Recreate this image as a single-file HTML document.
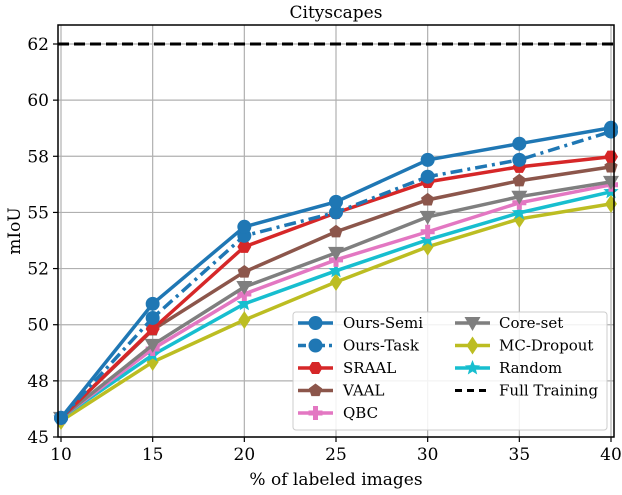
<!DOCTYPE html>
<html><head><meta charset="utf-8"><style>
body{margin:0;background:#fff}
svg text{font-family:"DejaVu Serif","Liberation Serif",serif;fill:#000}
</style></head><body>
<svg id="chart" width="622" height="490" viewBox="0 0 622 490" xmlns="http://www.w3.org/2000/svg"></svg>
<script>
const xCats=[10,15,20,25,30,35,40];
const xTickLabels=["10","15","20","25","30","35","40"];
const yTicks=[45,47.5,50,52.5,55,57.5,60,62.5];
const yTickLabels=["45","48","50","52","55","58","60","62"];
const oursSemi=[45.85,50.93,54.36,55.47,57.34,58.06,58.77];
const oursTask=[45.85,50.30,53.96,55.0,56.59,57.34,58.6];
const sraal=[45.85,49.81,53.47,54.98,56.36,57.03,57.48];
const vaal=[45.85,49.77,52.35,54.14,55.56,56.41,57.03];
const qbc=[45.85,48.92,51.37,52.89,54.14,55.43,56.23];
const coreset=[45.85,49.10,51.68,53.2,54.8,55.7,56.36];
const mcDropout=[45.71,48.34,50.21,51.9,53.47,54.71,55.38];
const random=[45.85,48.65,50.93,52.4,53.78,54.98,55.92];
const fullTraining=62.5;
const svg=document.getElementById('chart');
const NS='http://www.w3.org/2000/svg';
const L=58,R=614,T=25,B=437;
const xs=v=>61+(v-10)*(611-61)/30;
const ys=v=>437-(v-45)*(437-44)/17.5;
function mk(t,a,p){const e=document.createElementNS(NS,t);for(const k in a)e.setAttribute(k,a[k]);(p||svg).appendChild(e);return e;}
// grid
xCats.forEach((c,i)=>{const g=mk('line',{x1:xs(c),x2:xs(c),y1:T,y2:B,stroke:'#b0b0b0','stroke-width':1.2});

const tk=mk('line',{x1:xs(c),x2:xs(c),y1:B,y2:B+5,stroke:'#000','stroke-width':1.2});

const t=mk('text',{x:xs(c),y:B+23,'text-anchor':'middle','font-size':17});t.textContent=xTickLabels[i];
});
yTicks.forEach((v,i)=>{const g=mk('line',{x1:L,x2:R,y1:ys(v),y2:ys(v),stroke:'#b0b0b0','stroke-width':1.2});

const tk=mk('line',{x1:L-5,x2:L,y1:ys(v),y2:ys(v),stroke:'#000','stroke-width':1.2});

const t=mk('text',{x:L-9,y:ys(v)+6,'text-anchor':'end','font-size':17});t.textContent=yTickLabels[i];
});
// full training
const ft=mk('line',{x1:L,x2:R,y1:ys(fullTraining),y2:ys(fullTraining),stroke:'#000','stroke-width':3,'stroke-dasharray':'11,5'});

function marker(type,x,y,color,p){let e;const r=7;
if(type==='o')e=mk('circle',{cx:x,cy:y,r:r},p);
else if(type==='h'){let pts=[];for(let k=0;k<6;k++){const a=Math.PI/3*k;pts.push((x+r*Math.cos(a))+','+(y+r*Math.sin(a)));}e=mk('polygon',{points:pts.join(' ')},p);}
else if(type==='p'){let pts=[];for(let k=0;k<5;k++){const a=-Math.PI/2+2*Math.PI/5*k;pts.push((x+r*Math.cos(a))+','+(y+r*Math.sin(a)));}e=mk('polygon',{points:pts.join(' ')},p);}
else if(type==='P'){e=mk('path',{d:`M${x-2.5},${y-7}h5v4.5h4.5v5h-4.5v4.5h-5v-4.5h-4.5v-5h4.5z`},p);}
else if(type==='v'){e=mk('polygon',{points:`${x-8},${y-6} ${x+8},${y-6} ${x},${y+8}`},p);}
else if(type==='d'){e=mk('polygon',{points:`${x},${y-9} ${x+6},${y} ${x},${y+9} ${x-6},${y}`},p);}
else {let pts=[];for(let k=0;k<10;k++){const a=-Math.PI/2+Math.PI/5*k;const rr=k%2?3.5:8;pts.push((x+rr*Math.cos(a))+','+(y+rr*Math.sin(a)));}e=mk('polygon',{points:pts.join(' ')},p);}
e.setAttribute('fill',color);return e;}
const series=[
['mc-dropout',mcDropout,'#bcbd22','d',''],
['random',random,'#17becf','*',''],
['qbc',qbc,'#e377c2','P',''],
['core-set',coreset,'#7f7f7f','v',''],
['vaal',vaal,'#8c564b','p',''],
['sraal',sraal,'#d62728','h',''],
['ours-task',oursTask,'#1f77b4','o','12,5,3,5'],
['ours-semi',oursSemi,'#1f77b4','o','']];
series.forEach(s=>{const g=mk('g',{});
const pl=mk('polyline',{points:s[1].map((v,i)=>xs(xCats[i])+','+ys(v)).join(' '),fill:'none',stroke:s[2],'stroke-width':3.5,'stroke-dasharray':s[4]},g);

s[1].forEach((v,i)=>{const m=marker(s[3],xs(xCats[i]),ys(v),s[2],g);});});
// frame
const fr=mk('rect',{x:L,y:T,width:R-L,height:B-T,fill:'none',stroke:'#000','stroke-width':1.5});

// legend
const lg=mk('g',{});
const lb=mk('rect',{x:293,y:312,width:314,height:118,rx:3,fill:'#fff','fill-opacity':0.85,stroke:'#ccc','stroke-width':1},lg);

const entries=[['Ours-Semi','#1f77b4','o','',0,0],['Ours-Task','#1f77b4','o','8,4,3,4',0,1],['SRAAL','#d62728','h','',0,2],['VAAL','#8c564b','p','',0,3],['QBC','#e377c2','P','',0,4],
['Core-set','#7f7f7f','v','',1,0],['MC-Dropout','#bcbd22','d','',1,1],['Random','#17becf','*','',1,2],['Full Training','#000','','7,5',1,3]];
entries.forEach(e=>{const gx=e[4]?455:298,gy=323+e[5]*22.5;const g=mk('g',{},lg);

mk('line',{x1:gx,x2:gx+35,y1:gy,y2:gy,stroke:e[1],'stroke-width':e[2]?3.5:3,'stroke-dasharray':e[3]},g);
if(e[2])marker(e[2],gx+17.5,gy,e[1],g);
const t=mk('text',{x:e[4]?499:343,y:gy+5,'font-size':15},g);t.textContent=e[0];});
// titles
const tt=mk('text',{x:336,y:18,'text-anchor':'middle','font-size':17});tt.textContent='Cityscapes';

const xt=mk('text',{x:336,y:485,'text-anchor':'middle','font-size':17});xt.textContent='% of labeled images';

const yt=mk('text',{x:0,y:0,'text-anchor':'middle','font-size':17,transform:'translate(20,231) rotate(-90)'});yt.textContent='mIoU';

</script>
</body></html>
